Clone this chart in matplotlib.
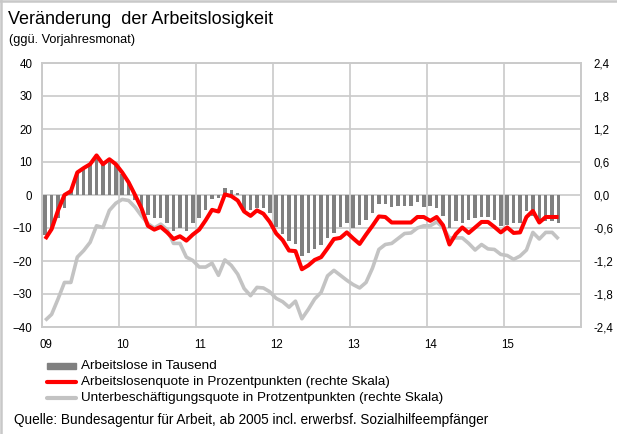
import matplotlib
matplotlib.use("Agg")
import matplotlib.pyplot as plt
from matplotlib.lines import Line2D
from matplotlib.patches import Rectangle
from matplotlib.ticker import FuncFormatter
import numpy as np

plt.rcParams['font.family'] = ['Liberation Sans', 'DejaVu Sans']

# ---- data (monthly, Jan 2009 - Sep 2015, change vs. same month of previous year) ----
year_labels = ['09', '10', '11', '12', '13', '14', '15']

# Arbeitslose in Tausend (left axis)
arbeitslose = [
    -12.0, -11.0, -7.0, -4.0, 1.5, 7.0, 8.5, 9.5, 11.0, 9.0, 10.5, 9.0,          # 2009
    6.5, 3.5, -1.5, -4.0, -6.0, -7.0, -7.0, -8.5, -11.0, -10.0, -11.0, -8.5,     # 2010
    -7.0, -4.5, -1.2, -0.8, 2.0, 1.5, 0.7, -4.7, -4.5, -3.8, -3.8, -5.4,         # 2011
    -9.7, -11.9, -13.9, -14.8, -18.5, -17.5, -16.5, -15.0, -13.0, -11.5, -9.6, -8.5,  # 2012
    -10.0, -9.0, -7.5, -5.5, -2.7, -2.7, -3.5, -3.3, -3.2, -3.2, -2.2, -3.5,     # 2013
    -3.3, -4.0, -6.5, -10.0, -8.0, -8.5, -7.5, -7.0, -6.8, -6.8, -7.5, -9.5,     # 2014
    -9.0, -8.5, -8.5, -4.8, -6.3, -8.5, -8.0, -8.0, -8.5,                        # 2015
]

# Arbeitslosenquote in Prozentpunkten (right axis)
quote = [
    -0.80, -0.62, -0.28, 0.00, 0.07, 0.41, 0.49, 0.56, 0.72, 0.56, 0.65, 0.56,
    0.41, 0.23, 0.00, -0.24, -0.56, -0.63, -0.58, -0.68, -0.80, -0.75, -0.83, -0.72,
    -0.63, -0.46, -0.27, -0.30, 0.01, -0.02, -0.10, -0.30, -0.38, -0.28, -0.34, -0.49,
    -0.70, -0.82, -1.01, -1.02, -1.35, -1.28, -1.18, -1.13, -0.97, -0.80, -0.78, -0.68,
    -0.79, -0.89, -0.72, -0.56, -0.39, -0.40, -0.50, -0.50, -0.50, -0.50, -0.40, -0.40,
    -0.47, -0.40, -0.55, -0.90, -0.71, -0.59, -0.69, -0.59, -0.49, -0.49, -0.58, -0.68,
    -0.59, -0.69, -0.68, -0.40, -0.29, -0.50, -0.40, -0.40, -0.40,
]

# Unterbeschaeftigungsquote in Prozentpunkten (right axis)
unterbesch = [
    -2.28, -2.17, -1.89, -1.59, -1.59, -1.13, -1.01, -0.86, -0.56, -0.59, -0.28, -0.15,
    -0.08, -0.10, -0.22, -0.38, -0.52, -0.60, -0.53, -0.63, -0.88, -0.88, -1.13, -1.19,
    -1.31, -1.31, -1.24, -1.46, -1.18, -1.28, -1.44, -1.70, -1.83, -1.68, -1.69, -1.76,
    -1.88, -1.94, -2.04, -1.93, -2.25, -2.08, -1.89, -1.77, -1.47, -1.37, -1.46, -1.55,
    -1.63, -1.69, -1.59, -1.33, -0.99, -0.90, -0.88, -0.79, -0.70, -0.69, -0.60, -0.56,
    -0.56, -0.49, -0.59, -0.78, -0.78, -0.78, -0.88, -1.00, -0.90, -0.98, -0.99, -1.08,
    -1.10, -1.17, -1.11, -1.00, -0.68, -0.80, -0.68, -0.68, -0.80,
]

legend_labels = [
    'Arbeitslose in Tausend',
    'Arbeitslosenquote in Prozentpunkten (rechte Skala)',
    'Unterbeschäftigungsquote in Protzentpunkten (rechte Skala)',
]

BAR_C = '#808080'
RED_C = '#ff0000'
LGREY_C = '#c3c3c3'
GRID_C = '#cacaca'

W, H = 617, 434
fig = plt.figure(figsize=(W / 100, H / 100), dpi=100)


def fx(px):
    return px / W


def fy(py):
    return 1 - py / H


left, right, top, bottom = 42, 581, 63, 327
ax = fig.add_axes([fx(left), fy(bottom), fx(right - left), (bottom - top) / H])
ax2 = ax.twinx()

n_months = 84
x = np.arange(len(arbeitslose)) + 0.5

ax.bar(x, arbeitslose, width=0.55, color=BAR_C, zorder=2, linewidth=0)
ax2.plot(x, unterbesch, color=LGREY_C, lw=2.6, solid_joinstyle='round',
         solid_capstyle='butt', zorder=3)
ax2.plot(x, quote, color=RED_C, lw=2.9, solid_joinstyle='round',
         solid_capstyle='butt', zorder=4)

ax.set_xlim(0, n_months)
ax.set_ylim(-40, 40)
ax2.set_ylim(-2.4, 2.4)
ax.set_yticks(np.arange(-40, 41, 10))
ax2.set_yticks(np.linspace(-2.4, 2.4, 9))
ax2.yaxis.set_major_formatter(FuncFormatter(lambda v, p: f'{v:.1f}'.replace('.', ',').replace('-0,0', '0,0')))

ax.set_xticks(np.arange(0, n_months + 1, 12))
ax.set_xticklabels([])
ax.set_xticks(np.arange(len(year_labels)) * 12 + 0.6, minor=True)
ax.set_xticklabels(year_labels, minor=True)

ax.set_axisbelow(True)
ax.grid(axis='y', color=GRID_C, lw=1.2)
ax.grid(axis='x', which='major', color=GRID_C, lw=1.2)

for a in (ax, ax2):
    for s in a.spines.values():
        s.set_color(GRID_C)
        s.set_linewidth(1.2)
    a.tick_params(which='both', length=0, labelsize=8.3, colors='black')

ax.tick_params(axis='y', pad=7)
ax2.tick_params(axis='y', pad=9)
ax.tick_params(axis='x', which='minor', pad=9)

# title block
fig.text(fx(8), fy(20), 'Veränderung  der Arbeitslosigkeit', fontsize=13, va='center', ha='left')
fig.text(fx(9), fy(40), '(ggü. Vorjahresmonat)', fontsize=9.2, va='center', ha='left')

# legend
rows = [366, 382, 398]
fig.add_artist(Rectangle((fx(47), fy(rows[0] + 3)), fx(29), 6 / H, color=BAR_C, transform=fig.transFigure))
fig.add_artist(Line2D([fx(47), fx(76)], [fy(rows[1]), fy(rows[1])], color=RED_C, lw=3.0,
                      solid_capstyle='round', transform=fig.transFigure))
fig.add_artist(Line2D([fx(47), fx(76)], [fy(rows[2]), fy(rows[2])], color=LGREY_C, lw=3.0,
                      solid_capstyle='round', transform=fig.transFigure))
for r, lab in zip(rows, legend_labels):
    fig.text(fx(81), fy(r), lab, fontsize=9.7, va='center', ha='left')

fig.text(fx(14), fy(420), 'Quelle: Bundesagentur für Arbeit, ab 2005 incl. erwerbsf. Sozialhilfeempfänger',
         fontsize=9.8, va='center', ha='left')

# frame lines along the top and left edge
fig.add_artist(Line2D([0, 1], [fy(1), fy(1)], color='#c8c8c8', lw=1.8, transform=fig.transFigure))
fig.add_artist(Line2D([fx(1), fx(1)], [0, 1], color='#c8c8c8', lw=1.8, transform=fig.transFigure))

fig.savefig('out.png', dpi=100)
